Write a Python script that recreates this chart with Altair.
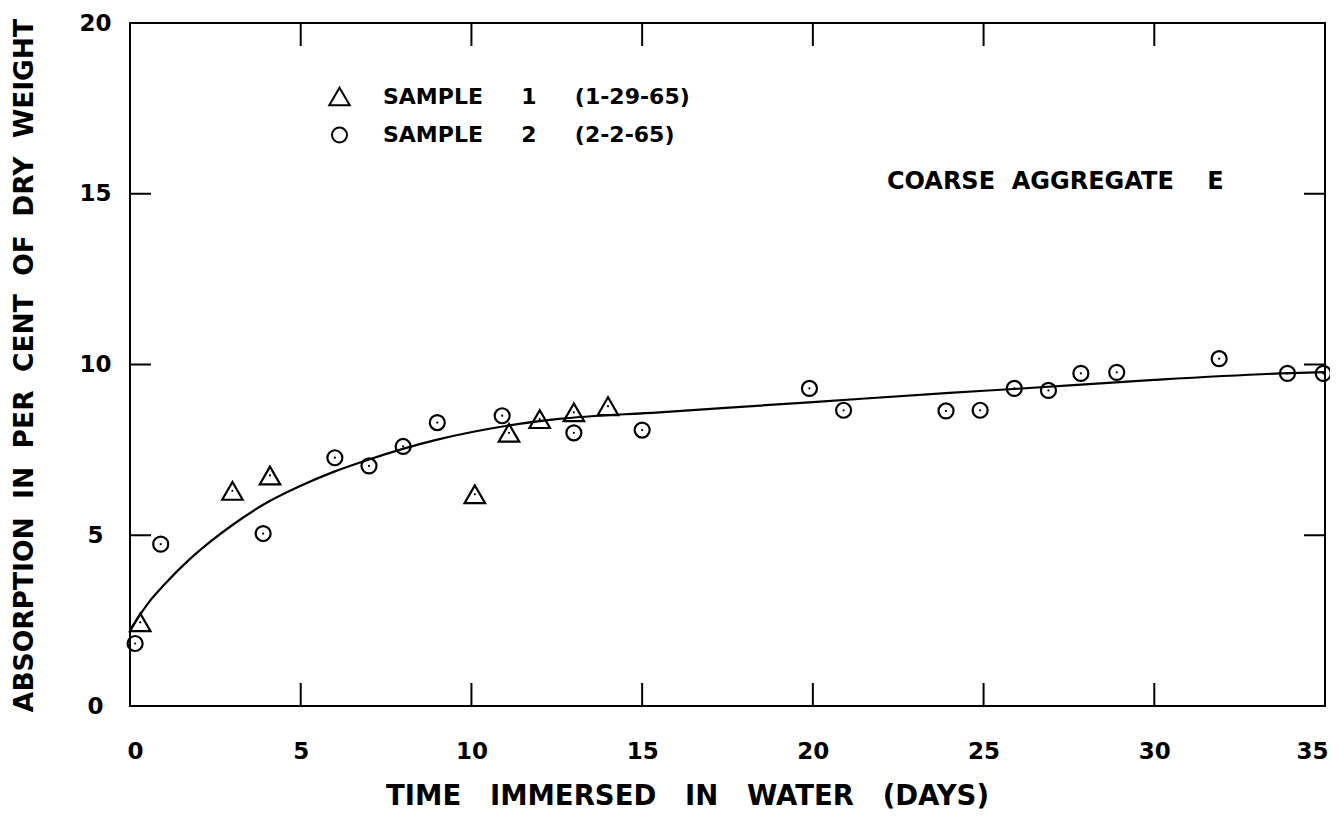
import altair as alt
import pandas as pd

NB = "\u00a0"

# Sample 1 (triangles)
s1_x = [0.3, 3.0, 4.1, 10.1, 11.1, 12.0, 13.0, 14.0]
s1_y = [2.45, 6.3, 6.75, 6.2, 8.0, 8.4, 8.6, 8.78]

# Sample 2 (circles)
s2_x = [0.15, 0.9, 3.9, 6.0, 7.0, 8.0, 9.0, 10.9, 13.0, 15.0, 19.9, 20.9,
        23.9, 24.9, 25.9, 26.9, 27.85, 28.9, 31.9, 33.9, 34.95]
s2_y = [1.83, 4.74, 5.05, 7.27, 7.03, 7.6, 8.3, 8.5, 8.0, 8.08, 9.3, 8.66,
        8.64, 8.66, 9.3, 9.24, 9.74, 9.77, 10.17, 9.74, 9.74]

# Fitted curve
curve_x = [0.05, 0.6, 1.0, 1.75, 2.4, 3.0, 4.0, 5.0, 6.0, 7.0, 9.0, 11.0, 12.5, 15.5, 20.0, 24.0, 26.0, 30.0, 34.0, 35.0]
curve_y = [2.3, 3.1, 3.55, 4.3, 4.85, 5.3, 5.95, 6.45, 6.87, 7.22, 7.8, 8.2, 8.4, 8.6, 8.9, 9.17, 9.29, 9.55, 9.75, 9.78]

sample_names = ["SAMPLE" + NB * 5 + "1" + NB * 5 + "(1-29-65)",
                "SAMPLE" + NB * 5 + "2" + NB * 5 + "(2-2-65)"]
sample_shapes = ["triangle-up", "circle"]
sample_sizes = [420, 225]

x_ticks = [0, 5, 10, 15, 20, 25, 30, 35]
y_ticks = [0, 5, 10, 15, 20]
x_range = [0, 35]
y_range = [0, 20]

annot_x = [27.1]
annot_y = [15.35]
annot_text = ["COARSE" + NB * 2 + "AGGREGATE" + NB * 4 + "E"]

x_title = "TIME" + NB * 3 + "IMMERSED" + NB * 3 + "IN" + NB * 3 + "WATER" + NB * 3 + "(DAYS)"
y_title = "ABSORPTION" + NB * 2 + "IN" + NB * 2 + "PER" + NB * 2 + "CENT" + NB * 2 + "OF" + NB * 2 + "DRY" + NB * 2 + "WEIGHT"

FONT = "DejaVu Sans"

pts = pd.DataFrame({
    "x": s1_x + s2_x,
    "y": s1_y + s2_y,
    "sample": [sample_names[0]] * len(s1_x) + [sample_names[1]] * len(s2_x),
})
curve = pd.DataFrame({"x": curve_x, "y": curve_y})
annot = pd.DataFrame({"x": annot_x, "y": annot_y, "t": annot_text})
vticks = pd.DataFrame({"x": x_ticks * 2,
                       "y": [y_range[0]] * len(x_ticks) + [y_range[1]] * len(x_ticks)})
hticks = pd.DataFrame({"x": [x_range[0]] * len(y_ticks) + [x_range[1]] * len(y_ticks),
                       "y": y_ticks * 2})

xs = alt.Scale(domain=x_range, nice=False, zero=False)
ys = alt.Scale(domain=y_range, nice=False, zero=False)

x_axis = alt.Axis(values=x_ticks, orient="bottom", domain=False, grid=False, ticks=False,
                  tickSize=0, labelFont=FONT, labelFontSize=23,
                  labelFontWeight="bold", labelColor="black", labelPadding=45,
                  labelBaseline="middle", labelFlush=True, labelFlushOffset=3,
                  labelOverlap=False,
                  title=x_title, titleFont=FONT, titleFontSize=27.5, titleFontWeight="bold",
                  titleColor="black", titleX=557, titleY=90, titleAlign="center",
                  titleBaseline="middle")
y_axis = alt.Axis(values=y_ticks, orient="left", domain=False, grid=False, ticks=False,
                  tickSize=0, labelFont=FONT, labelFontSize=23,
                  labelFontWeight="bold", labelColor="black", labelPadding=35,
                  labelAlign="center", labelBaseline="middle", labelFlush=False,
                  labelOverlap=False,
                  title=y_title, titleFont=FONT, titleFontSize=26.5, titleFontWeight="bold",
                  titleColor="black", titleX=-106, titleY=342, titleAngle=270,
                  titleAlign="center", titleBaseline="middle")

leg = alt.Legend(title=None, orient="none", legendX=198, legendY=62, padding=0,
                 labelFont=FONT, labelFontSize=22, labelFontWeight="bold",
                 labelColor="black", labelOffset=32, rowPadding=13, labelLimit=0,
                 symbolStrokeColor="black", symbolStrokeWidth=2,
                 symbolFillColor="transparent")

points = alt.Chart(pts).mark_point(filled=False, color="black", strokeWidth=2.2, opacity=1).encode(
    x=alt.X("x:Q", scale=xs, axis=x_axis),
    y=alt.Y("y:Q", scale=ys, axis=y_axis),
    shape=alt.Shape("sample:N", scale=alt.Scale(domain=sample_names, range=sample_shapes), legend=leg),
    size=alt.Size("sample:N", scale=alt.Scale(domain=sample_names, range=sample_sizes), legend=leg),
)

dots = alt.Chart(pts).mark_point(filled=True, color="black", size=5, opacity=1).encode(
    x=alt.X("x:Q", scale=xs, axis=None),
    y=alt.Y("y:Q", scale=ys, axis=None),
)

line = alt.Chart(curve).mark_line(color="black", strokeWidth=2.2, interpolate="monotone").encode(
    x=alt.X("x:Q", scale=xs, axis=None),
    y=alt.Y("y:Q", scale=ys, axis=None),
)

vt = alt.Chart(vticks).mark_tick(orient="vertical", size=46, thickness=2, color="black",
                                 opacity=1, clip=True).encode(
    x=alt.X("x:Q", scale=xs, axis=None),
    y=alt.Y("y:Q", scale=ys, axis=None),
)
ht = alt.Chart(hticks).mark_tick(orient="horizontal", size=42, thickness=2, color="black",
                                 opacity=1, clip=True).encode(
    x=alt.X("x:Q", scale=xs, axis=None),
    y=alt.Y("y:Q", scale=ys, axis=None),
)

text = alt.Chart(annot).mark_text(font=FONT, fontSize=24, fontWeight="bold", color="black",
                                  align="center", baseline="middle").encode(
    x=alt.X("x:Q", scale=xs, axis=None),
    y=alt.Y("y:Q", scale=ys, axis=None),
    text="t:N",
)

chart = alt.layer(vt, ht, line, points, dots, text).resolve_axis(
    x="independent", y="independent"
).properties(
    width=1195, height=683,
    autosize=alt.AutoSizeParams(type="none"),
    padding={"left": 122, "top": 15, "right": 5, "bottom": 106},
    background="white",
).configure_view(stroke="black", strokeWidth=2)

chart.save("out.html", embed_options={"renderer": "svg", "actions": False})
